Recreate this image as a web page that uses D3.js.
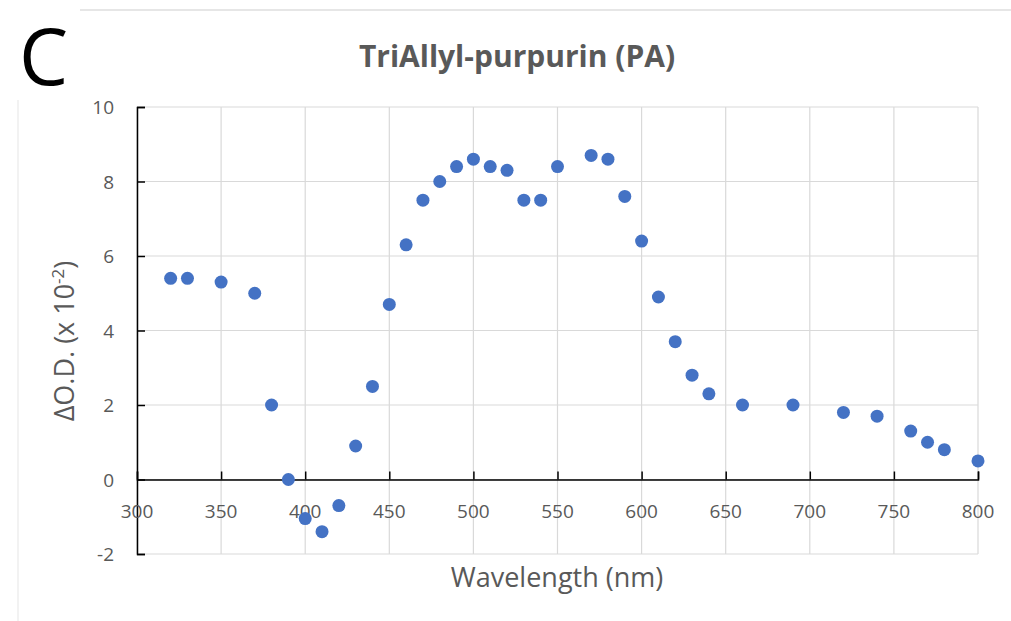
<!DOCTYPE html>
<html>
<head>
<meta charset="UTF-8">
<title>TriAllyl-purpurin (PA)</title>
<script type="text/javascript" src="https://cdn.jsdelivr.net/npm/d3@7"></script>
<style>
body { margin: 0; background: #fff; }
text { font-family: "Open Sans", "Noto Sans", sans-serif; }
</style>
</head>
<body>
<script type="text/javascript">
// wavelength (nm) and ΔO.D. (x 10^-2)
var wavelength = [320, 330, 350, 370, 380, 390, 400, 410, 420, 430, 440, 450, 460, 470, 480, 490, 500,
                  510, 520, 530, 540, 550, 570, 580, 590, 600, 610, 620, 630, 640, 660, 690, 720, 740,
                  760, 770, 780, 800];
var deltaOD = [5.4, 5.4, 5.3, 5.0, 2.0, 0, -1.05, -1.4, -0.7, 0.9, 2.5, 4.7, 6.3, 7.5, 8.0, 8.4, 8.6,
               8.4, 8.3, 7.5, 7.5, 8.4, 8.7, 8.6, 7.6, 6.4, 4.9, 3.7, 2.8, 2.3, 2.0, 2.0, 1.8, 1.7,
               1.3, 1.0, 0.8, 0.5];
var xTicks = [300, 350, 400, 450, 500, 550, 600, 650, 700, 750, 800];
var yTicks = [-2, 0, 2, 4, 6, 8, 10];

var w = 1011, h = 621;
var svg = d3.select("body").append("svg")
            .attr("width", w)
            .attr("height", h);

var x = d3.scaleLinear().domain([300, 800]).range([137, 978]);
var y = d3.scaleLinear().domain([-2, 10]).range([554, 107]);

// frame bits around the figure
svg.append("line").attr("x1", 80).attr("x2", w).attr("y1", 10).attr("y2", 10)
   .attr("stroke", "#e6e6e6").attr("stroke-width", 2);
svg.append("line").attr("x1", 18).attr("x2", 18).attr("y1", 100).attr("y2", h)
   .attr("stroke", "#eeeeee").attr("stroke-width", 1.5);

svg.append("text").text("C")
   .attr("x", 19).attr("y", 85)
   .attr("font-size", "78px").attr("fill", "#000");

svg.append("text").text("TriAllyl-purpurin (PA)")
   .attr("x", 517).attr("y", 67)
   .attr("text-anchor", "middle")
   .attr("font-size", "30px").attr("font-weight", "bold")
   .attr("fill", "#595959");

// gridlines
svg.append("g").selectAll("line").data(xTicks).enter().append("line")
   .attr("x1", function(d){ return x(d); }).attr("x2", function(d){ return x(d); })
   .attr("y1", y(10)).attr("y2", y(-2))
   .attr("stroke", "#d9d9d9").attr("stroke-width", 1.2);
svg.append("g").selectAll("line").data(yTicks).enter().append("line")
   .attr("x1", x(300)).attr("x2", x(800))
   .attr("y1", function(d){ return y(d); }).attr("y2", function(d){ return y(d); })
   .attr("stroke", "#d9d9d9").attr("stroke-width", 1.2);

// y axis, ticks inward
var yAxis = svg.append("g")
   .attr("transform", "translate(" + x(300) + ",0)")
   .call(d3.axisRight(y).tickValues(yTicks).tickSize(8).tickFormat(""));
yAxis.select(".domain").attr("stroke", "#000").attr("stroke-width", 1.5);
yAxis.selectAll(".tick line").attr("stroke", "#000").attr("stroke-width", 1.5);

svg.append("g").selectAll("text").data(yTicks).enter().append("text")
   .text(function(d){ return d; })
   .attr("x", 114).attr("y", function(d){ return y(d) + 7; })
   .attr("text-anchor", "end")
   .attr("font-size", "19px").attr("fill", "#595959");

// x axis crossing at 0, ticks upward
var xAxis = svg.append("g")
   .attr("transform", "translate(0," + y(0) + ")")
   .call(d3.axisTop(x).tickValues(xTicks).tickSize(8).tickFormat(""));
xAxis.select(".domain").attr("stroke", "#000").attr("stroke-width", 1.5);
xAxis.selectAll(".tick line").attr("stroke", "#000").attr("stroke-width", 1.5);

svg.append("g").selectAll("text").data(xTicks).enter().append("text")
   .text(function(d){ return d; })
   .attr("x", function(d){ return x(d); }).attr("y", 518)
   .attr("text-anchor", "middle")
   .attr("font-size", "19px").attr("fill", "#595959");

// axis titles
svg.append("text")
   .attr("transform", "translate(74,341) rotate(-90)")
   .attr("text-anchor", "middle")
   .attr("font-size", "27px").attr("fill", "#595959")
   .html('ΔO.D. (x 10<tspan dy="-10" font-size="17px">-2</tspan><tspan dy="10">)</tspan>');

svg.append("text").text("Wavelength (nm)")
   .attr("x", 557).attr("y", 587)
   .attr("text-anchor", "middle")
   .attr("font-size", "27px").attr("fill", "#595959");

// points
svg.append("g").selectAll("circle").data(wavelength).enter().append("circle")
   .attr("cx", function(d){ return x(d); })
   .attr("cy", function(d, i){ return y(deltaOD[i]); })
   .attr("r", 6.5)
   .attr("fill", "#4472c4");
</script>
</body>
</html>
